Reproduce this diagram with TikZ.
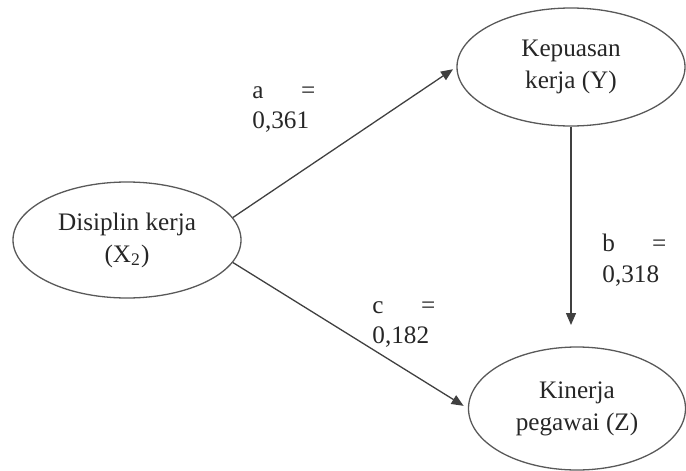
\documentclass[tikz,border=0pt]{standalone}
\usepackage{fontspec}
\setmainfont{Liberation Serif}
\usetikzlibrary{shapes.geometric,arrows.meta}
\begin{document}
\begin{tikzpicture}[x=0.5pt,y=-0.5pt,
  every node/.style={font=\fontsize{12.6}{16}\selectfont, text=black!85},
  var/.style={ellipse, draw=black!65, line width=0.65pt, inner sep=0pt, align=center},
  conn/.style={draw=black!75, line width=0.65pt, -{Triangle[length=6pt,width=5pt]}},
  lbl/.style={anchor=base west, inner sep=0pt}]
\useasboundingbox (0,0) rectangle (686,471);
\node[var, minimum width=114pt, minimum height=58pt] (X) at (127,240) {Disiplin kerja\\(X\textsubscript{2})};
\node[var, minimum width=114pt, minimum height=59pt] (Y) at (571,67) {Kepuasan\\kerja (Y)};
\node[var, minimum width=108.5pt, minimum height=61.5pt] (Z) at (577,408.5) {Kinerja\\pegawai (Z)};
\coordinate (btip) at (571,325);
\draw[conn, shorten >=2pt] (X.12) -- (Y.west);
\draw[conn, shorten >=2.5pt] (X.-12) -- (Z.west);
\draw[conn] (Y.south) -- (btip);
\node[lbl] (a1) at (252,98) {\makebox[31.5pt][l]{a\hfill=}};
\node[lbl] (a2) at (252,128) {0,361};
\node[lbl] (b1) at (602,251) {\makebox[32pt][l]{b\hfill=}};
\node[lbl] (b2) at (602,282) {0,318};
\node[lbl] (c1) at (372,313) {\makebox[31.5pt][l]{c\hfill=}};
\node[lbl] (c2) at (372,343) {0,182};
\end{tikzpicture}
\end{document}
